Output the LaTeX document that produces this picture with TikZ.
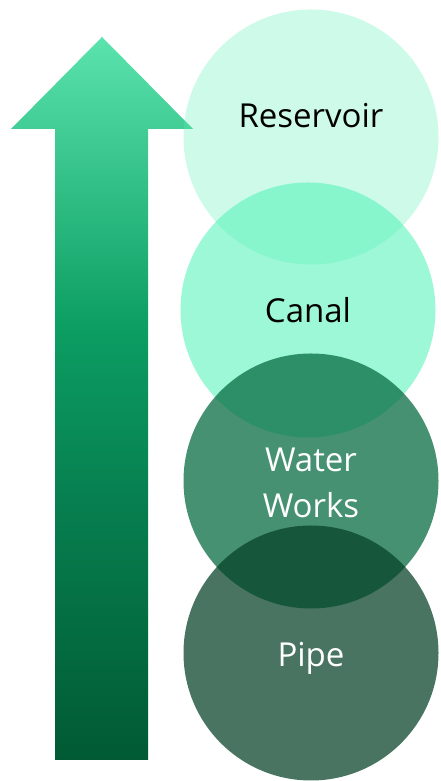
\documentclass[tikz,border=0pt]{standalone}
\usepackage{fontspec}
\setmainfont{Open Sans}
\usepackage{tikz}
\usetikzlibrary{positioning,calc}
\definecolor{arrowtop}{HTML}{5BE3AD}
\definecolor{arrowmid}{HTML}{0C9E63}
\definecolor{arrowlow}{HTML}{077F50}
\definecolor{arrowbot}{HTML}{015A33}
\definecolor{mintlight}{HTML}{5BF0B5}
\definecolor{mintmid}{HTML}{5AF3BA}
\definecolor{greenworks}{HTML}{03683F}
\definecolor{greenpipe}{HTML}{054227}
\pgfdeclareverticalshading{arrowfade}{100bp}{color(0bp)=(arrowbot); color(25bp)=(arrowbot);
  color(43bp)=(arrowlow); color(55bp)=(arrowmid); color(75bp)=(arrowtop); color(100bp)=(arrowtop)}

\begin{document}
\begin{tikzpicture}[x=1pt,y=1pt,
    bubble/.style={circle,minimum size=255pt,inner sep=0pt},
    lbl/.style={font=\fontsize{33}{46}\selectfont,align=center}]
  \useasboundingbox (0,0) rectangle (440,781);
  % 左側の上向き矢印（グラデーション）
  \shade[shading=arrowfade]
    (102,744) -- (193,652) -- (148,652) -- (148,21) -- (55,21) -- (55,652) -- (11,652) -- cycle;
  % 半透明の円（上から順に）
  \node[bubble,fill=mintlight,fill opacity=0.3] (reservoir) at (311,644) {};
  \node[bubble,fill=mintmid,fill opacity=0.6] (canal) at (308,471) {};
  \node[bubble,fill=greenworks,fill opacity=0.73] (works) at (311,300) {};
  \node[bubble,fill=greenpipe,fill opacity=0.735] (pipe) at (311,128) {};
  % ラベル
  \node[lbl,anchor=base,text=black] (reservoirtxt) at ([yshift=9pt]reservoir.center) {Reservoir};
  \node[lbl,anchor=base,text=black] (canaltxt) at ([yshift=-13pt]canal.center) {Canal};
  \node[lbl,text=white] (workstxt) at ([yshift=-2pt]works.center) {Water\\Works};
  \node[lbl,anchor=base,text=white] (pipetxt) at ([yshift=-14pt]pipe.center) {Pipe};
\end{tikzpicture}
\end{document}
